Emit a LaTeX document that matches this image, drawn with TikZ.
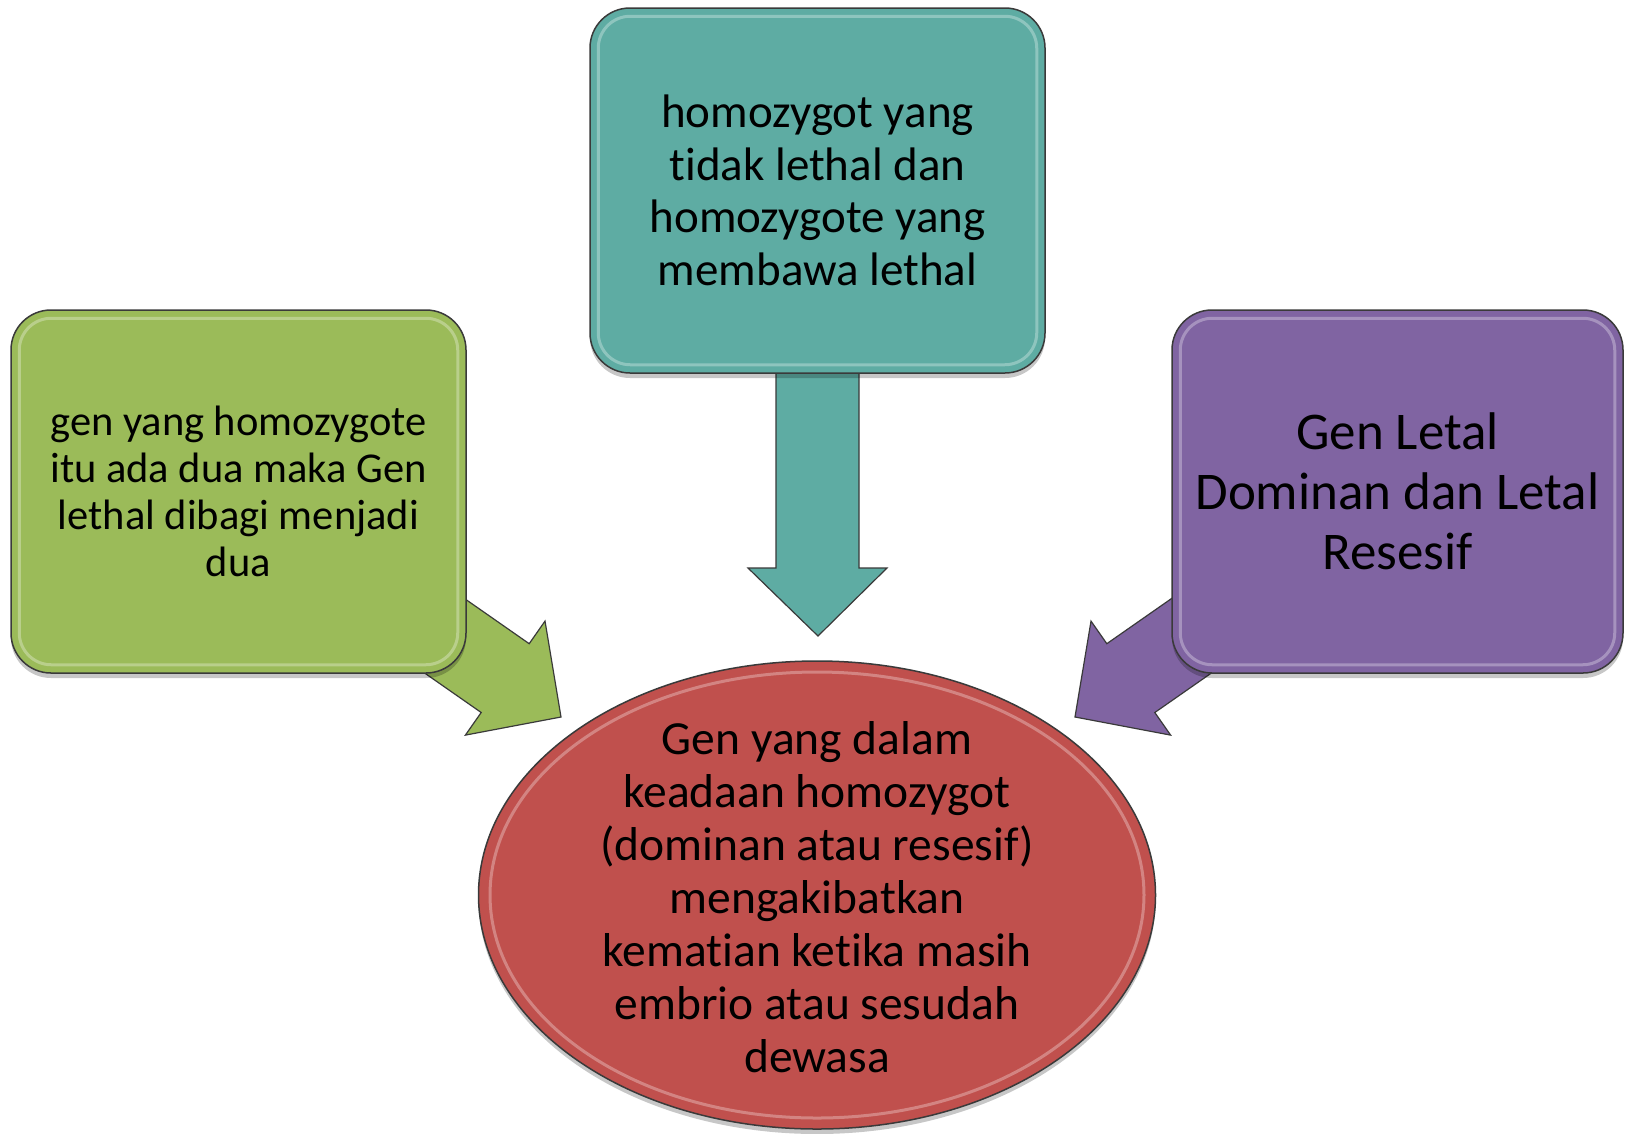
\documentclass[tikz,border=0pt]{standalone}
\usepackage{fontspec}
\setmainfont{Carlito}[Ligatures={NoCommon,NoContextual}, Contextuals=NoAlternate]
\usetikzlibrary{calc,shadows,shapes.geometric}
\definecolor{boxgreen}{HTML}{9BBB59}
\definecolor{boxteal}{HTML}{5EACA3}
\definecolor{boxpurple}{HTML}{8064A2}
\definecolor{boxred}{HTML}{C0504D}
\definecolor{edgegray}{HTML}{3A3A3A}
\newcommand{\nolig}{\kern0pt}
\begin{document}
\begin{tikzpicture}[x=1pt,y=-1pt,
  card/.style={draw=edgegray, line width=1.5pt, rounded corners=40pt, align=center,
    text=black, inner sep=0pt,
    drop shadow={shadow xshift=0pt, shadow yshift=-5pt, opacity=.22, fill=black}},
  blob/.style={ellipse, draw=edgegray, line width=1.5pt, inner sep=0pt,
    drop shadow={shadow xshift=0pt, shadow yshift=-5pt, opacity=.22, fill=black}},
  blockarrow/.style={draw=edgegray, line width=1.2pt, line join=miter},
  gloss/.style={white, opacity=.3, line width=3pt}]
\useasboundingbox (0,0) rectangle (1627,1133);
\fill[white] (0,0) rectangle (1627,1133);

% block arrows (behind the boxes)
\coordinate (tg) at (561,717);
\coordinate (tt) at (818,636);
\coordinate (tp) at (1075,717);
\filldraw[blockarrow, fill=boxgreen] (tg) -- (545.0,621.1) -- (529.2,643.7) -- (421.0,568.2)
  -- (373.0,637.0) -- (481.2,712.5) -- (465.4,735.1) -- cycle;
\filldraw[blockarrow, fill=boxpurple] (tp) -- (1091.0,621.1) -- (1106.8,643.7) -- (1215.0,568.2)
  -- (1263.0,637.0) -- (1154.8,712.5) -- (1170.6,735.1) -- cycle;
\filldraw[blockarrow, fill=boxteal] (tt) -- (887,568) -- (859,568) -- (859,360) -- (776,360)
  -- (776,568) -- (748,568) -- cycle;

% boxes
\node[card, fill=boxgreen, minimum width=455pt, minimum height=363pt,
  font=\fontsize{42.5}{47}\selectfont] (g) at (238.5,491.5)
  {gen yang homozygote\\itu ada dua maka Gen\\lethal dibagi menjadi\\dua};
\node[card, fill=boxteal, minimum width=455pt, minimum height=365pt,
  font=\fontsize{47}{52.5}\selectfont] (t) at (817.5,190.5)
  {homozygot yang\\t\nolig idak lethal dan\\homozygote yang\\membawa lethal};
\node[card, fill=boxpurple, minimum width=451pt, minimum height=363pt,
  font=\fontsize{53}{60}\selectfont] (p) at (1397.5,491.5)
  {Gen Letal\\Dominan dan Letal\\Resesif};
\node[blob, fill=boxred, minimum width=677pt, minimum height=468pt] (r) at (817,895) {};
\node[align=center, text=black, inner sep=0pt, font=\fontsize{47.5}{53}\selectfont]
  (rt) at ($(r.center)+(0,2)$)
  {Gen yang dalam\\keadaan homozygot\\(dominan atau resesif)\\mengakibatkan\\kemat\nolig ian ket\nolig ika masih\\embrio atau sesudah\\dewasa};

% glossy inner highlights
\foreach \n in {g,t,p}{
  \draw[gloss, rounded corners=32pt] ($(\n.north west)+(9,9)$) rectangle ($(\n.south east)+(-9,-9)$);
}
\draw[gloss] (r.center) ellipse [x radius=327pt, y radius=223pt];
\end{tikzpicture}
\end{document}
